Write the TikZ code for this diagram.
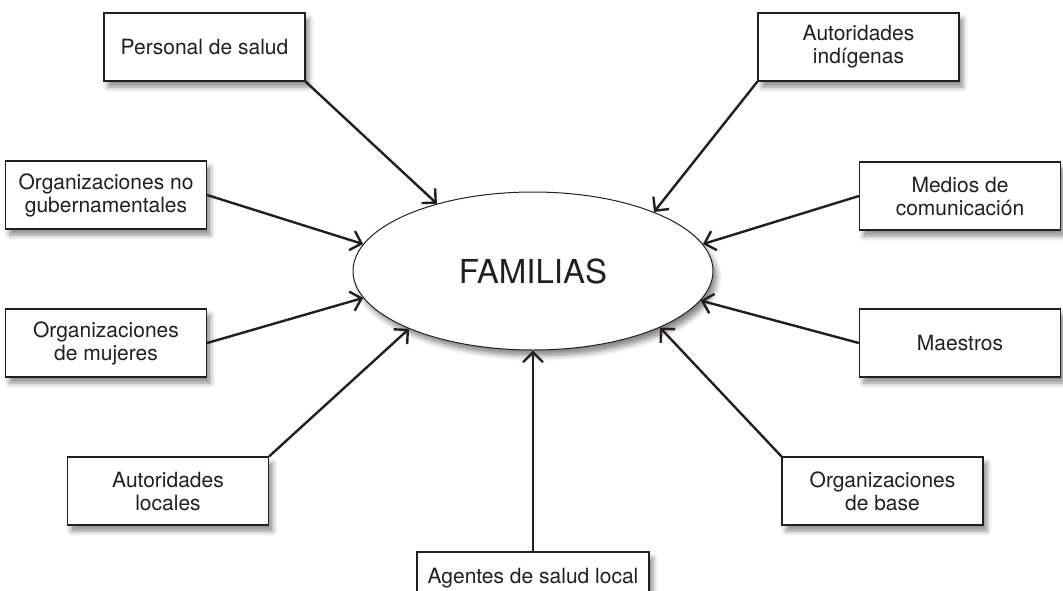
\documentclass[tikz,border=0pt]{standalone}
\usepackage{fontspec}
\setmainfont{TeX Gyre Heros}
\usetikzlibrary{shapes.geometric,arrows.meta,shadows.blur}
\definecolor{ink}{HTML}{231F20}
\begin{document}
\begin{tikzpicture}[x=1pt,y=-1pt,
  shad/.style={blur shadow={shadow xshift=4pt, shadow yshift=-6pt, shadow blur radius=5pt, shadow opacity=45}},
  actor/.style={draw=ink, line width=1.2pt, fill=white, minimum width=201pt, minimum height=68pt,
    inner sep=0pt, align=center, text=ink, font=\fontsize{21}{23}\selectfont, shad},
  center/.style={ellipse, draw=ink, line width=1pt, fill=white, minimum width=360pt, minimum height=158pt,
    inner sep=0pt, text=ink, font=\fontsize{33}{36}\selectfont, shad},
  conn/.style={draw=ink, line width=2.4pt, -{Straight Barb[length=10pt,width=20pt,line width=2.4pt]}}]
\useasboundingbox (0,0) rectangle (1063,590);
\node[center] (fam) at (533,271) {FAMILIAS};
\node[actor] (ps) at (204.5,47) {Personal de salud};
\node[actor] (ai) at (858.5,47) {Autoridades\\indígenas};
\node[actor] (ong) at (106,195) {Organizaciones no\\gubernamentales};
\node[actor] (mc) at (960,196) {Medios de\\comunicación};
\node[actor] (om) at (106,343) {Organizaciones\\de mujeres};
\node[actor] (ma) at (960,343) {Maestros};
\node[actor] (al) at (168,491) {Autoridades\\locales};
\node[actor] (ob) at (882.5,491) {Organizaciones\\de base};
\node[actor, minimum width=232pt] (ag) at (533,586) {\raisebox{8pt}[15pt][4.5pt]{Agentes de salud local}};
\draw[conn] (ps.south east) -- (fam.145.8);
\draw[conn] (ai.south west) -- (fam.26.9);
\draw[conn] (ong.east) -- (fam.171.1);
\draw[conn] (mc.west) -- (fam.9.0);
\draw[conn] (om.east) -- (fam.189.9);
\draw[conn] (ma.west) -- (fam.-10.8);
\draw[conn] (al.north east) -- (fam.205.2);
\draw[conn] (ob.north west) -- (fam.-24.9);
\draw[conn] (ag.north) -- (fam.south);
\end{tikzpicture}
\end{document}
